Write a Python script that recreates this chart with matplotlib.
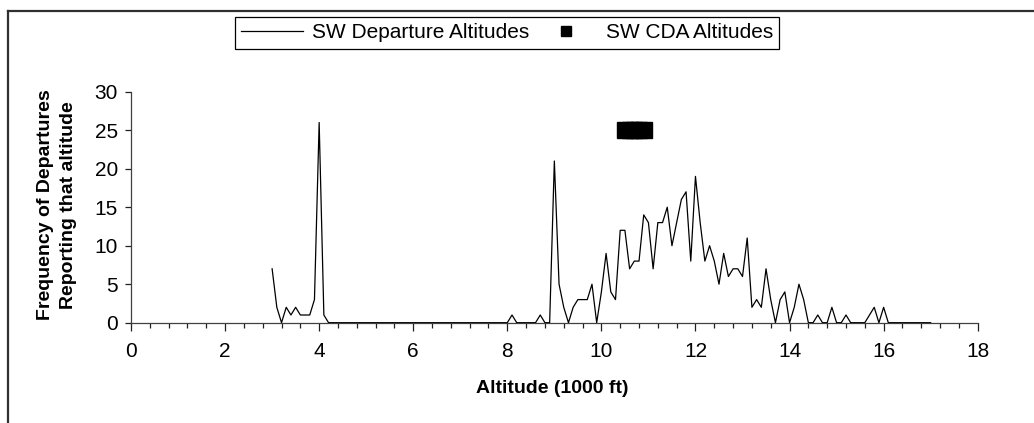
import numpy as np
import matplotlib.pyplot as plt
from matplotlib.lines import Line2D

plt.rcParams['font.family'] = ['Liberation Sans', 'DejaVu Sans']

# departures per 100 ft altitude bin, starting at 3.0 (1000 ft)
first_alt = 3.0
bin_width = 0.1
dep_freq = [
    7, 2, 0, 2, 1, 2, 1, 1, 1, 3,          # 3.x
    26, 1, 0, 0, 0, 0, 0, 0, 0, 0,         # 4.x
    0, 0, 0, 0, 0, 0, 0, 0, 0, 0,          # 5.x
    0, 0, 0, 0, 0, 0, 0, 0, 0, 0,          # 6.x
    0, 0, 0, 0, 0, 0, 0, 0, 0, 0,          # 7.x
    0, 1, 0, 0, 0, 0, 0, 1, 0, 0,          # 8.x
    21, 5, 2, 0, 2, 3, 3, 3, 5, 0,         # 9.x
    4, 9, 4, 3, 12, 12, 7, 8, 8, 14,       # 10.x
    13, 7, 13, 13, 15, 10, 13, 16, 17, 8,  # 11.x
    19, 13, 8, 10, 8, 5, 9, 6, 7, 7,       # 12.x
    6, 11, 2, 3, 2, 7, 3, 0, 3, 4,         # 13.x
    0, 2, 5, 3, 0, 0, 1, 0, 0, 2,          # 14.x
    0, 0, 1, 0, 0, 0, 0, 1, 2, 0,          # 15.x
    2, 0, 0, 0, 0, 0, 0, 0, 0, 0,          # 16.x
    0,                                     # 17.0
]
dep_alt = np.round(first_alt + bin_width * np.arange(len(dep_freq)), 1)

# CDA altitudes
cda_alt = [10.5, 10.6, 10.7, 10.8, 10.9]
cda_freq = [25, 25, 25, 25, 25]

W, H = 1034, 423
fs = 15
fig = plt.figure(figsize=(W / 100, H / 100), dpi=100)
ax = fig.add_axes([131 / W, 1 - 322.7 / H, (977.7 - 131) / W, (322.7 - 91.7) / H])

ax.plot(dep_alt, dep_freq, color='black', lw=0.9, label='SW Departure Altitudes', zorder=3)
ax.plot(cda_alt, cda_freq, ls='none', marker='s', ms=11.5, color='black',
        label='SW CDA Altitudes', zorder=4)

ax.set_xlim(0, 18)
ax.set_ylim(0, 30)
ax.set_xticks(np.arange(0, 19, 2))
ax.set_xticks(np.arange(0, 18.01, 0.4), minor=True)
ax.set_yticks(np.arange(0, 31, 5))

for s in ['top', 'right']:
    ax.spines[s].set_visible(False)
for s in ['left', 'bottom']:
    ax.spines[s].set_color('#404040')
    ax.spines[s].set_linewidth(0.9)

ax.tick_params(axis='x', which='major', direction='out', length=6, width=0.9,
               color='#202020', labelsize=fs, pad=8)
ax.tick_params(axis='x', which='minor', direction='out', length=3.5, width=0.9,
               color='#202020')
ax.tick_params(axis='y', which='major', direction='out', length=4.5, width=0.9,
               color='#202020', labelsize=fs, pad=5)

ax.set_xlabel('Altitude (1000 ft)', fontsize=14, fontweight='bold')
ax.xaxis.set_label_coords(0.497, -0.285)
ax.xaxis.label.set_va('center')
ax.set_ylabel('Frequency of Departures\nReporting that altitude', fontsize=14,
              fontweight='bold', multialignment='center', linespacing=1.45)
ax.yaxis.set_label_coords((57 - 131) / (977.7 - 131), 0.51)
ax.yaxis.label.set_va('center')

leg = fig.legend(loc='center', bbox_to_anchor=(507 / W, 1 - 33 / H), ncol=2,
                 fontsize=fs, frameon=True, fancybox=False, edgecolor='black',
                 framealpha=1, markerscale=0.65, handlelength=3.0,
                 handletextpad=0.4, columnspacing=0.3, borderpad=0.3)
leg.get_frame().set_linewidth(0.9)

# chart area border (top and left edges visible in the crop)
fig.add_artist(Line2D([8 / W, 1], [1 - 11 / H, 1 - 11 / H], transform=fig.transFigure,
                      color='#303030', lw=1.6))
fig.add_artist(Line2D([8 / W, 8 / W], [0, 1 - 11 / H], transform=fig.transFigure,
                      color='#303030', lw=1.6))

fig.savefig('out.png', dpi=100)
